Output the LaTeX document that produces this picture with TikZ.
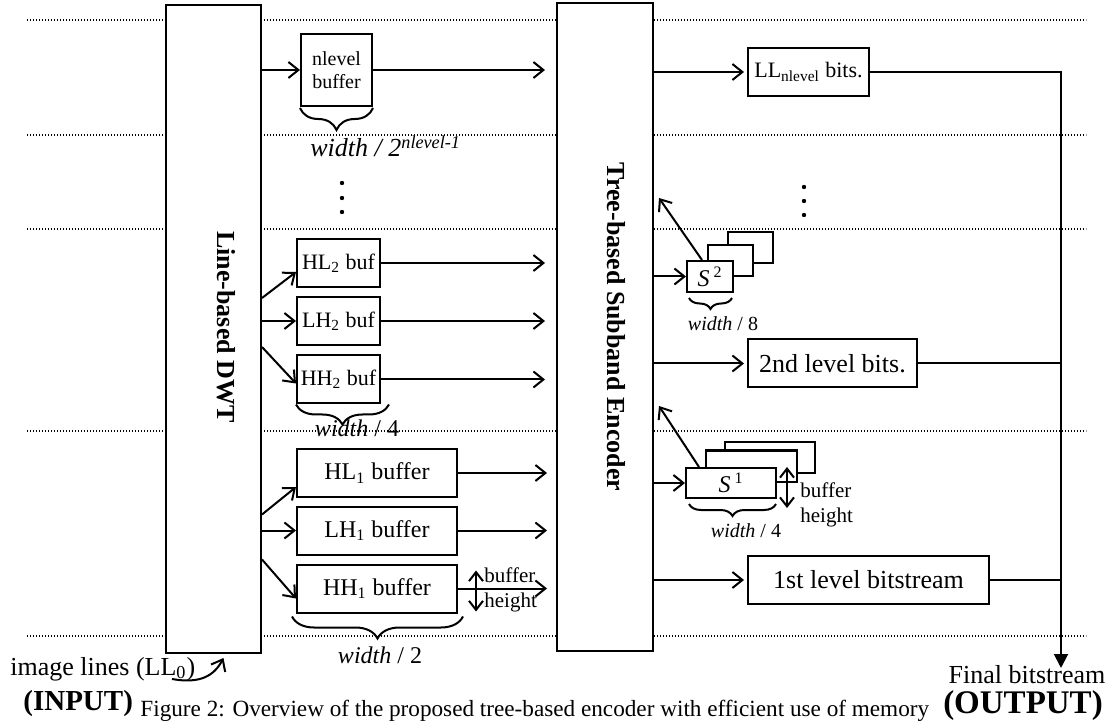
\documentclass[tikz,border=0pt]{standalone}
\usepackage{fontspec}
\setmainfont{Liberation Serif}
\usetikzlibrary{calc,arrows.meta,positioning,decorations.pathreplacing}
\tikzset{
  blk/.style={rectangle, draw=black, fill=white, line width=1pt, inner sep=0pt, align=center},
  wire/.style={line width=1pt},
  arr/.style={wire, -{Straight Barb[length=5pt,width=8pt]}},
  darr/.style={wire, {Straight Barb[length=4.5pt,width=7pt]}-{Straight Barb[length=4.5pt,width=7pt]}},
  outarr/.style={wire, -{Triangle[length=7pt,width=7pt]}},
  brc/.style={wire, decorate, decoration={brace, mirror, amplitude=#1}},
  sepline/.style={line width=0.6pt, dash pattern=on 0.6pt off 0.9pt},
  txt/.style={inner sep=0pt},
  f10/.style={font=\fontsize{10}{11.5}\selectfont},
  f105/.style={font=\fontsize{10.5}{12.5}\selectfont},
  f11/.style={font=\fontsize{11}{13}\selectfont},
  f12/.style={font=\fontsize{12}{14}\selectfont},
  f13/.style={font=\fontsize{13}{15}\selectfont},
}
\begin{document}
\begin{tikzpicture}[x=0.5pt, y=-0.5pt,
    big/.style={blk, minimum width=48pt, minimum height=324pt},
    buf2/.style={blk, f11, minimum width=41.5pt, minimum height=24pt},
    buf1/.style={blk, f12, minimum width=80pt, minimum height=24pt},
    sbox/.style={blk, f12, minimum height=15.5pt},
    bits/.style={blk, minimum height=24pt},
    vlbl/.style={font=\fontsize{13}{15}\selectfont\bfseries, rotate=-90}]
  \useasboundingbox (0,0) rectangle (1116,722);
  % level separators
  \foreach \y in {20,135,229,431,636}
    \draw[sepline] (27,\y) -- (1086,\y);
  % main blocks
  \node[big, minimum width=47.5pt] (dwt) at (213.5,329) {};
  \node[big] (enc) at (605,327) {};
  \node[vlbl] (dwtlbl) at (226,327) {Line-based DWT};
  \node[vlbl] (enclbl) at (616,327) {Tree-based Subband Encoder};
  % buffers
  \node[blk, f10, minimum width=35.5pt, minimum height=36pt] (nlb) at (336.5,70) {nlevel\\buffer};
  \node[buf2] (hl2) at (338.5,263) {HL\textsubscript{2} buf};
  \node[buf2] (lh2) at (338.5,321) {LH\textsubscript{2} buf};
  \node[buf2] (hh2) at (338.5,379.5) {HH\textsubscript{2} buf};
  \node[buf1] (hl1) at (377,473) {HL\textsubscript{1} buffer};
  \node[buf1] (lh1) at (377,530.5) {LH\textsubscript{1} buffer};
  \node[buf1] (hh1) at (377,588.5) {HH\textsubscript{1} buffer};
  % encoder side
  \node[bits, f11, minimum width=60.5pt] (llb) at (808.5,72) {LL\textsubscript{nlevel} bits.};
  \node[sbox, minimum width=22.5pt] (s2c) at (750.5,248) {};
  \node[sbox, minimum width=22.5pt] (s2b) at (730.5,261) {};
  \node[sbox, minimum width=23pt] (s2) at (710,276.5) {\textit{S}\,\textsuperscript{2}};
  \node[bits, f13, minimum width=84.5pt] (snd) at (832.5,363.5) {2nd level bits.};
  \node[sbox, minimum width=45pt] (s1c) at (770,457.5) {};
  \node[sbox, minimum width=45.5pt] (s1b) at (751.5,466) {};
  \node[sbox, minimum width=45pt, minimum height=15pt] (s1) at (731,483) {\textit{S}\,\textsuperscript{1}};
  \node[bits, f13, minimum width=120.5pt] (fst) at (868.5,580) {1st level bitstream};
  % dots
  \foreach \y in {183,198,212} \fill (342,\y) circle (1.1pt);
  \foreach \y in {187,201,215} \fill (804,\y) circle (1.1pt);
  % DWT to buffers
  \draw[arr] (nlb.west -| dwt.east) -- (nlb.west);
  \draw[arr] ($(dwt.east |- lh2.west)+(0,-23)$) -- ([yshift=-4.5pt]hl2.west);
  \draw[arr] (lh2.west -| dwt.east) -- (lh2.west);
  \draw[arr] ($(dwt.east |- lh2.west)+(0,26)$) -- ([yshift=-2pt]hh2.west);
  \draw[arr] ($(dwt.east |- lh1.west)+(0,-16)$) -- ([yshift=-7pt]hl1.west);
  \draw[arr] (lh1.west -| dwt.east) -- (lh1.west);
  \draw[arr] ($(dwt.east |- lh1.west)+(0,29)$) -- ([yshift=-5pt]hh1.west);
  % buffers to encoder
  \foreach \b in {nlb,hl2,lh2,hh2}
    \draw[arr, shorten >=5.5pt] (\b.east) -- (\b.east -| enc.west);
  \foreach \b in {hl1,lh1,hh1}
    \draw[arr, shorten >=4.5pt] (\b.east) -- (\b.east -| enc.west);
  % encoder outputs
  \foreach \b in {llb,snd,fst}
    \draw[arr, shorten >=1.5pt] (\b.west -| enc.east) -- (\b.west);
  \draw[arr] (s2.west -| enc.east) -- (s2.west);
  \draw[arr] ([xshift=-4pt]s2.north) -- ($(enc.north east)+(5,196)$);
  \draw[arr] (s1.west -| enc.east) -- (s1.west);
  \draw[arr] ([xshift=-16pt]s1.north) -- ($(enc.north east)+(5,404)$);
  % braces
  \draw[brc=11pt] ([yshift=-0.5pt]nlb.south west) -- ([yshift=-0.5pt]nlb.south east);
  \node[f13, txt, anchor=base west] (wnl) at (310,157) {\textit{width / 2\textsuperscript{nlevel-1}}};
  \draw[brc=10pt] (hh2.south west) -- ($(hh2.south east)+(8,0)$);
  \node[f12, anchor=base] (w4a) at (357,437) {\textit{width} / 4};
  \draw[brc=11pt] ($(hh1.south west)+(-4,3)$) -- ($(hh1.south east)+(5,3)$);
  \node[f12, anchor=base] (w2) at (380,663) {\textit{width} / 2};
  \draw[brc=5.5pt] ($(s2.south west)+(3,5)$) -- ($(s2.south east)+(-2,5)$);
  \node[f10, anchor=base] (w8) at (723,330) {\textit{width} / 8};
  \draw[brc=6pt] ($(s1.south west)+(4,5)$) -- ($(s1.south east)+(-1,5)$);
  \node[f10, anchor=base] (w4b) at (746,538) {\textit{width} / 4};
  % buffer heights
  \draw[darr] ($(hh1.north east)+(18,7)$) -- ($(hh1.south east)+(18,-2)$);
  \node[f105, align=left, anchor=west, txt] (bh1) at (484,590) {buffer\\height};
  \draw[darr] ($(s1.north east)+(10,0)$) -- ($(s1.south east)+(10,9)$);
  \node[f105, align=left, anchor=west, txt] (bh2) at (800,505) {buffer\\height};
  % final output
  \coordinate (fbtip) at (1061,668);
  \draw[outarr] (llb.east) -| (fbtip);
  \draw[wire] (snd.east) -- (snd.east -| fbtip);
  \draw[wire] (fst.east) -- (fst.east -| fbtip);
  \node[f13, txt, anchor=base] (final) at (1027,683) {Final bitstream};
  \node[font=\fontsize{16.5}{18}\selectfont\bfseries, txt, anchor=base] (outp) at (1023,713) {(OUTPUT)};
  % input
  \node[f13, txt, anchor=base west] (img) at (10,675) {image lines (LL\textsubscript{0})};
  \node[font=\fontsize{14.5}{16}\selectfont\bfseries, txt, anchor=base west] (inp) at (23,710) {(INPUT)};
  \coordinate (inpt) at (172,679);
  \draw[arr] (inpt) .. controls (200,684) and (214,676) .. ([xshift=5pt,yshift=-2pt]dwt.south);
  % caption
  \node[font=\fontsize{11.6}{14}\selectfont, txt, anchor=base west] (cap) at (140,716) {Figure 2: Overview of the proposed tree-based encoder with efficient use of memory};
\end{tikzpicture}
\end{document}
